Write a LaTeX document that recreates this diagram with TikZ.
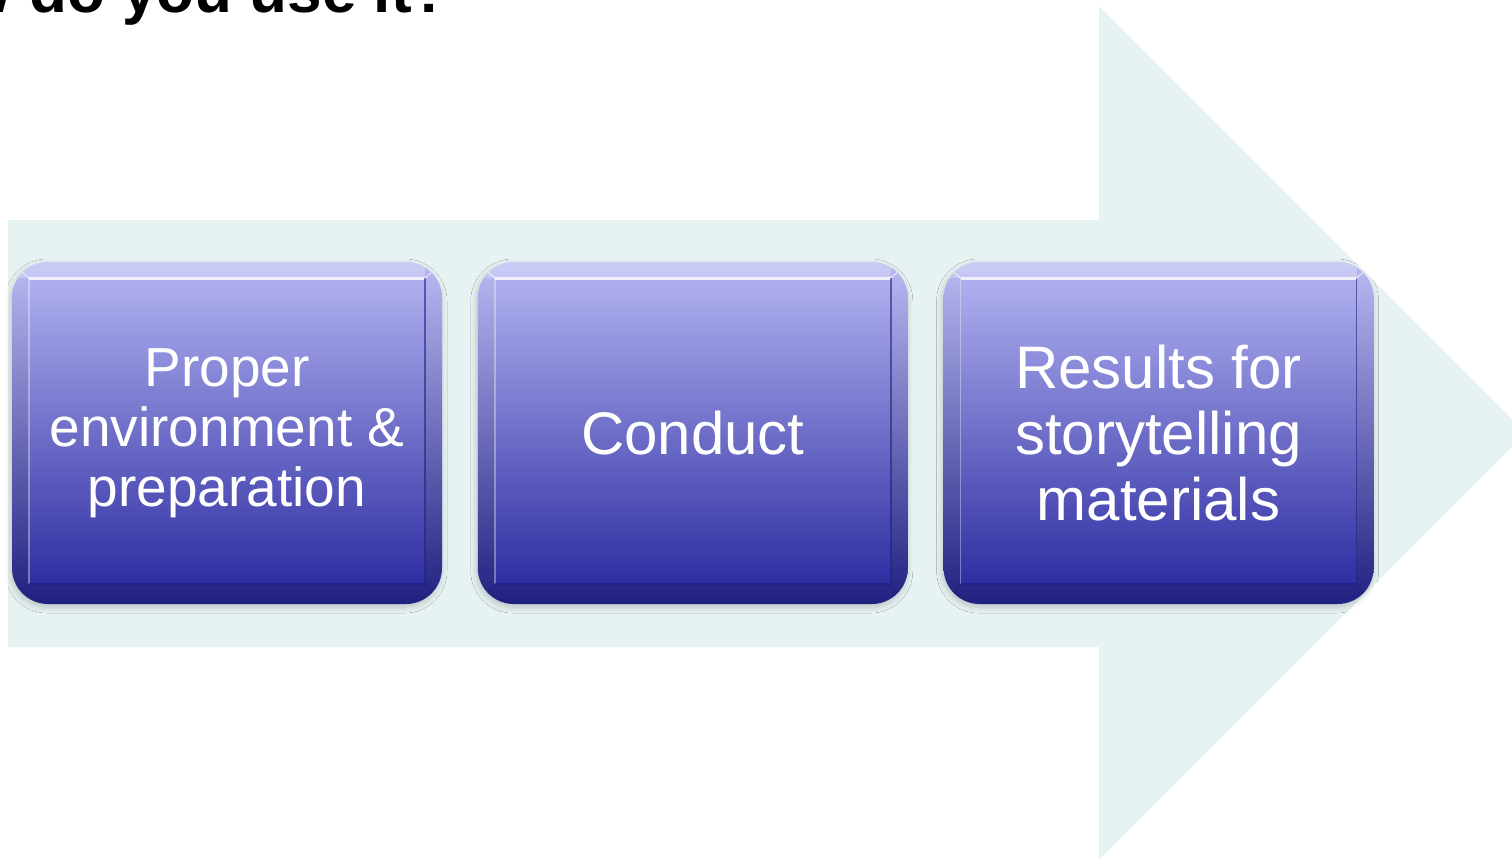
\documentclass[tikz,border=0pt]{standalone}
\usepackage{fontspec}
\setmainfont{Liberation Sans}
\usetikzlibrary{positioning,shadows.blur}

\definecolor{arrowbg}{RGB}{231,242,243}
\definecolor{rimtop}{RGB}{186,186,244}
\definecolor{boxtop}{RGB}{176,176,240}
\definecolor{boxmid}{RGB}{136,136,214}
\definecolor{boxbot}{RGB}{46,46,162}
\definecolor{rimbot}{RGB}{32,32,128}

\begin{document}
\begin{tikzpicture}[
  x=0.5pt, y=-0.5pt,
  node distance=17.5pt,
  bevel/.style={path picture={
    \coordinate (nw) at ([shift={(8.5pt,-8pt)}]path picture bounding box.north west);
    \coordinate (ne) at ([shift={(-8.5pt,-8pt)}]path picture bounding box.north east);
    \coordinate (sw) at ([shift={(8.5pt,10pt)}]path picture bounding box.south west);
    \coordinate (se) at ([shift={(-8.5pt,10pt)}]path picture bounding box.south east);
    \begin{scope}[sharp corners]
    % light band along the top rim
    \fill[white, opacity=0.25] (path picture bounding box.north west) rectangle (ne);
    \shade[top color=boxtop, middle color=boxmid, bottom color=boxbot] (nw) rectangle (se);
    \draw[white, opacity=0.8, line width=1.5pt] (nw) -- (ne);
    \draw[white, opacity=0.35, line width=0.8pt] (nw) -- (sw);
    \draw[rimbot, opacity=0.6, line width=0.8pt] (ne) -- (se);
    \draw[rimbot, opacity=0.8, line width=1pt] (sw) -- (se);
    % corner mitres
    \draw[white, opacity=0.6, line width=0.6pt]
      ([shift={(5pt,-5pt)}]path picture bounding box.north west) -- (nw)
      ([shift={(-5pt,-5pt)}]path picture bounding box.north east) -- (ne);
    \draw[rimbot, opacity=0.5, line width=0.6pt]
      ([shift={(5pt,5pt)}]path picture bounding box.south west) -- (sw)
      ([shift={(-5pt,5pt)}]path picture bounding box.south east) -- (se);
    \end{scope}
  }},
  phase/.style={bevel, rounded corners=18pt, minimum width=215pt, minimum height=171pt,
    inner sep=0pt, align=center, text=white, font=\fontsize{30}{33}\selectfont,
    top color=rimtop, middle color=boxmid, bottom color=rimbot,
    blur shadow={shadow xshift=-0.5pt, shadow yshift=-1.5pt, shadow blur radius=3pt,
      shadow blur steps=8, shadow opacity=20}}
]
\useasboundingbox (0,0) rectangle (1512,859);
\clip (0,0) rectangle (1512,859);

% big arrow behind the three phases
\fill[arrowbg] (8,220) -- (1099,220) -- (1099,6) -- (1526,433) -- (1099,860)
  -- (1099,647) -- (8,647) -- cycle;

\node[anchor=base east, inner sep=0pt, font=\fontsize{31}{31}\selectfont\bfseries] (title)
  at (450,12) {How do you use it?};

\node[phase, font=\fontsize{27.5}{30}\selectfont] (prep) at (227,433)
  {Proper\\environment \&\\preparation};
\node[phase, right=of prep] (conduct) {Conduct};
\node[phase, right=of conduct] (results) {Results for\\storytelling\\materials};
\end{tikzpicture}
\end{document}
